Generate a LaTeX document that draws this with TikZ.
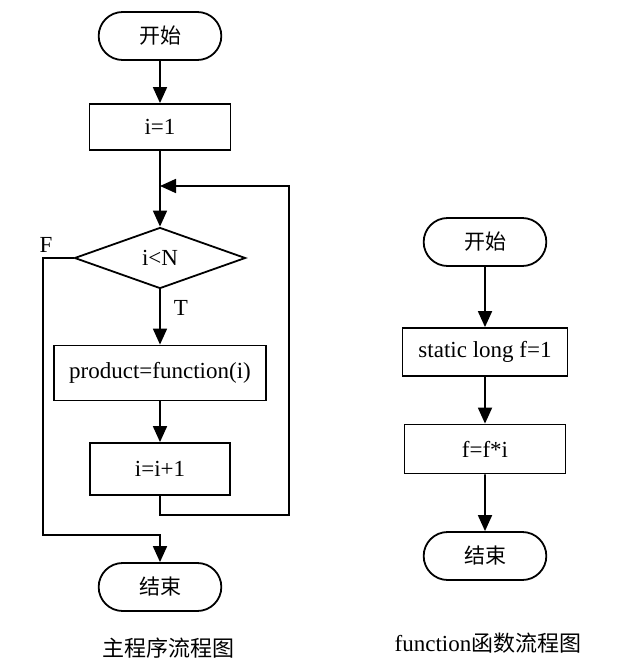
\documentclass[tikz,border=0pt]{standalone}
\usepackage{fontspec}
\setmainfont{Liberation Serif}
\newfontfamily\cjk{Noto Sans CJK SC}
\usetikzlibrary{positioning, arrows.meta, shapes.geometric, shapes.misc}

\begin{document}
\begin{tikzpicture}[x=0.5pt, y=-0.5pt,
        every node/.style={font=\fontsize{11.5}{14}\selectfont},
        term/.style={shape=rounded rectangle, draw, line width=0.9pt, minimum width=68pt, minimum height=24pt, font=\cjk\fontsize{10.5}{14}\selectfont},
        proc/.style={shape=rectangle, draw, line width=0.9pt, minimum height=24pt},
        cond/.style={shape=diamond, draw, line width=0.9pt, minimum width=85.5pt, minimum height=30.5pt, inner sep=0pt},
        flow/.style={-{Triangle[length=8pt,width=7pt]}, line width=0.9pt}]
    \useasboundingbox (0,0) rectangle (626,664);
        % main program
        \node[term] (s1) at (160,36) {开始};
        \node[proc, minimum width=70.5pt, minimum height=23pt] (a1) at (160,127) {i=1};
        \node[cond] (c1) at (160,258) {i<N};
        \node[proc, minimum width=106pt, minimum height=27.5pt] (a2) at (160,373) {product=function(i)};
        \node[proc, minimum width=70pt, minimum height=26pt] (a3) at (160,469) {i=i+1};
        \node[term] (e1) at (160,587) {结束};
        \node (lblF) at (46,245) {F};
        \node (lblT) at (181,308) {T};
        \node[font=\cjk\fontsize{11}{14}\selectfont] (cap1) at (168,648) {主程序流程图};
        \coordinate (join) at (160,186);
        \coordinate (back) at (289,515);
        \coordinate (fout) at (43,535);
        \draw[flow] (s1) -- (a1);
        \draw[flow] (a1) -- (c1);
        \draw[flow] (c1) -- (a2);
        \draw[flow] (a2) -- (a3);
        \draw[flow] (a3.south) |- (back) |- (join);
        \draw[flow] (c1.west) -| (fout) -| (e1.north);
        % function
        \node[term] (s2) at (485,242) {开始};
        \node[proc, minimum width=82.5pt] (b1) at (485,352) {static long f=1};
        \node[proc, minimum width=80.5pt, minimum height=24.5pt] (b2) at (485,449) {f=f*i};
        \node[term] (e2) at (485,556) {结束};
        \node (cap2) at (488,643) {function{\cjk\fontsize{11}{14}\selectfont 函数流程图}};
        \draw[flow] (s2) -- (b1);
        \draw[flow] (b1) -- (b2);
        \draw[flow] (b2) -- (e2);
    \end{tikzpicture}
\end{document}
